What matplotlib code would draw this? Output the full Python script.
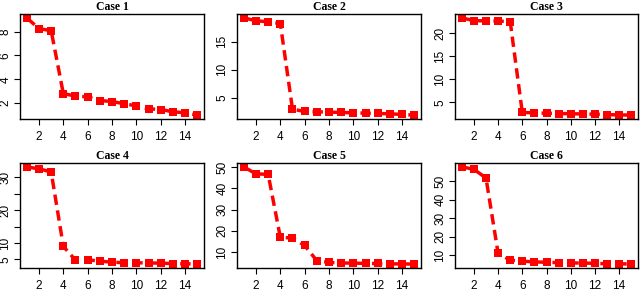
import matplotlib.pyplot as plt
import numpy as np

W, H = 640, 306

x = list(range(1, 16))

case1 = [9.15, 8.25, 8.08, 2.8, 2.6, 2.53, 2.22, 2.14, 1.95, 1.78, 1.53, 1.47, 1.28, 1.2, 1.0]
case2 = [19.2, 18.7, 18.5, 18.2, 3.0, 2.6, 2.53, 2.48, 2.42, 2.36, 2.3, 2.24, 2.18, 2.07, 1.95]
case3 = [23.4, 22.8, 22.75, 22.7, 22.6, 2.77, 2.7, 2.6, 2.55, 2.5, 2.45, 2.4, 2.3, 2.25, 2.2]
case4 = [33.1, 32.5, 31.6, 9.0, 4.8, 4.9, 4.5, 4.2, 4.0, 4.0, 3.95, 3.9, 3.75, 3.7, 3.6]
case5 = [50.1, 46.8, 46.6, 16.9, 16.6, 13.1, 5.9, 5.1, 4.8, 4.8, 4.6, 4.6, 4.4, 4.4, 4.3]
case6 = [57.8, 56.5, 51.8, 11.1, 7.3, 6.8, 6.4, 6.2, 6.0, 5.8, 5.8, 5.6, 5.4, 5.4, 5.2]

titles = ["Case 1", "Case 2", "Case 3", "Case 4", "Case 5", "Case 6"]
series = [case1, case2, case3, case4, case5, case6]
xticks = [2, 4, 6, 8, 10, 12, 14]
yticks = [
    [2, 4, 6, 8],
    [5, 10, 15],
    [5, 10, 15, 20],
    [5, 10, 15, 20, 25, 30],
    [10, 20, 30, 40, 50],
    [10, 20, 30, 40, 50],
]
ylabels = [
    ["2", "4", "6", "8"],
    ["5", "10", "15"],
    ["5", "10", "15", "20"],
    ["5", "10", "", "20", "", "30"],
    ["10", "20", "30", "40", "50"],
    ["10", "20", "30", "40", "50"],
]

# panel boxes in pixels: left, right, top, bottom
boxes = [
    (20, 204, 14, 119), (237, 421, 14, 119), (455, 638, 14, 119),
    (20, 204, 163, 268), (237, 421, 163, 268), (455, 638, 163, 268),
]

fig = plt.figure(figsize=(W / 100, H / 100), dpi=100)

for i in range(6):
    l, r, t, b = boxes[i]
    ax = fig.add_axes([l / W, 1 - b / H, (r - l) / W, (b - t) / H])
    y = series[i]
    ax.plot(x, y, color="#ff0000", lw=2.5, linestyle=(0, (3, 1.6)),
            marker="s", markersize=6, markeredgewidth=0, dash_capstyle="butt")
    lo, hi = min(y), max(y)
    pad = (hi - lo) * 0.04
    ax.set_ylim(lo - pad, hi + pad)
    ax.set_xlim(1 - 14 * 0.04, 15 + 14 * 0.04)
    ax.set_xticks(xticks)
    ax.set_yticks(yticks[i])
    ax.set_yticklabels(ylabels[i], rotation=90, va="center")
    ax.tick_params(labelsize=8.5, length=4.3, width=0.8, pad=2, direction="out")
    ax.tick_params(axis="x", pad=4)
    for s in ax.spines.values():
        s.set_linewidth(1.0)
    ax.set_title(titles[i], fontsize=8.5, fontweight="bold", family="Liberation Serif", pad=3)
    for lab in ax.get_xticklabels() + ax.get_yticklabels():
        lab.set_family("Liberation Sans")

fig.savefig("out.png", dpi=100)
